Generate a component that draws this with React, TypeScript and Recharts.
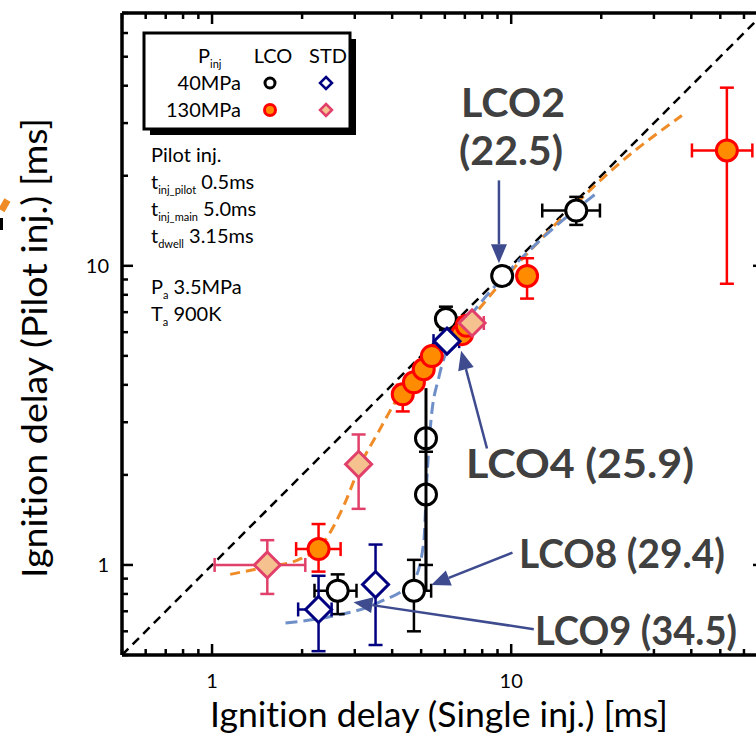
import {
  ComposedChart,
  Line,
  Scatter,
  XAxis,
  YAxis,
  ErrorBar,
  ReferenceLine,
} from 'recharts';

// log ticks for both axes
const TICKS = [0.5, 0.6, 0.7, 0.8, 0.9, 1, 2, 3, 4, 5, 6, 7, 8, 9, 10, 20, 30, 40, 50, 60, 70];
const MAJOR = [1, 10];

// LCO, 40 MPa (open black circles)
const lco40 = [
  { x: 2.63, y: 0.82, xLo: 2.2, xHi: 3.04, yLo: 0.685, yHi: 0.93 },
  { x: 4.73, y: 0.82, xLo: 4.5, xHi: 5.4, yLo: 0.6, yHi: 1.04 },
  { x: 5.19, y: 1.72, xLo: 5.19, xHi: 5.19, yLo: 1.0, yHi: 1.72 },
  { x: 5.19, y: 2.65, xLo: 5.19, xHi: 5.19, yLo: 2.39, yHi: 2.65 },
  { x: 6.05, y: 6.64, xLo: 5.75, xHi: 6.35, yLo: 6.1, yHi: 7.3 },
  { x: 9.33, y: 9.25, xLo: 9.33, xHi: 9.33, yLo: 9.25, yHi: 9.25 },
  { x: 16.5, y: 15.3, xLo: 12.7, xHi: 19.8, yLo: 13.7, yHi: 17.0 },
];

// LCO, 130 MPa (filled orange circles)
const lco130 = [
  { x: 2.27, y: 1.13, xLo: 1.91, xHi: 2.69, yLo: 0.95, yHi: 1.37 },
  { x: 4.34, y: 3.72, xLo: 4.2, xHi: 4.5, yLo: 3.26, yHi: 4.0 },
  { x: 4.73, y: 4.08, xLo: 4.6, xHi: 4.9, yLo: 3.9, yHi: 4.3 },
  { x: 5.1, y: 4.51, xLo: 5.0, xHi: 5.2, yLo: 4.3, yHi: 4.7 },
  { x: 5.43, y: 4.99, xLo: 5.3, xHi: 5.6, yLo: 4.8, yHi: 5.2 },
  { x: 6.85, y: 5.91, xLo: 6.3, xHi: 7.2, yLo: 5.6, yHi: 6.2 },
  { x: 7.1, y: 6.3, xLo: 6.9, xHi: 7.3, yLo: 6.1, yHi: 6.5 },
  { x: 11.3, y: 9.25, xLo: 10.8, xHi: 11.8, yLo: 7.77, yHi: 10.6 },
  { x: 52.6, y: 24.3, xLo: 40.2, xHi: 64, yLo: 8.71, yHi: 39.4 },
];

// STD, 40 MPa (open navy diamonds)
const std40 = [
  { x: 2.27, y: 0.71, xLo: 1.94, xHi: 2.51, yLo: 0.515, yHi: 0.92 },
  { x: 3.52, y: 0.86, xLo: 3.52, xHi: 3.52, yLo: 0.54, yHi: 1.17 },
  { x: 6.1, y: 5.6, xLo: 5.5, xHi: 6.7, yLo: 5.6, yHi: 5.6 },
];

// STD, 130 MPa (peach diamonds)
const std130 = [
  { x: 1.53, y: 1.0, xLo: 1.02, xHi: 2.05, yLo: 0.8, yHi: 1.21 },
  { x: 3.09, y: 2.17, xLo: 3.09, xHi: 3.09, yLo: 1.54, yHi: 2.73 },
  { x: 7.4, y: 6.44, xLo: 6.7, xHi: 8.1, yLo: 6.44, yHi: 6.44 },
];

// trend curves
const diagonal = [
  { x: 0.5, y: 0.5 },
  { x: 70, y: 70 },
];
const orangeTrend = [
  { x: 1.15, y: 0.93 }, { x: 1.52, y: 0.985 }, { x: 1.94, y: 1.04 }, { x: 2.36, y: 1.19 },
  { x: 2.75, y: 1.57 }, { x: 3.14, y: 2.17 }, { x: 3.61, y: 2.8 }, { x: 4.21, y: 3.66 },
  { x: 5.31, y: 4.8 }, { x: 7.2, y: 6.54 }, { x: 9.48, y: 9.04 }, { x: 14.5, y: 14.2 },
  { x: 23.0, y: 22.0 }, { x: 37.2, y: 31.8 },
];
const blueTrend = [
  { x: 1.76, y: 0.64 }, { x: 2.45, y: 0.67 }, { x: 3.61, y: 0.75 }, { x: 4.73, y: 0.89 },
  { x: 5.1, y: 1.19 }, { x: 5.22, y: 1.9 }, { x: 5.39, y: 3.02 }, { x: 5.74, y: 4.27 },
  { x: 6.28, y: 5.6 }, { x: 7.5, y: 7.06 }, { x: 9.48, y: 9.25 }, { x: 12.4, y: 12.1 },
  { x: 19.3, y: 17.5 },
];
const blackTrend = [
  { x: 5.19, y: 0.82 },
  { x: 5.19, y: 3.9 },
];

// annotation arrows: tail -> tip
const arrows = [
  [{ x: 9.1, y: 19.3 }, { x: 9.1, y: 10.2 }],
  [{ x: 8.3, y: 2.45 }, { x: 6.8, y: 5.2 }],
  [{ x: 10.1, y: 1.1 }, { x: 5.4, y: 0.857 }],
  [{ x: 11.9, y: 0.61 }, { x: 2.97, y: 0.75 }],
];

const withErr = (d: any[]) =>
  d.map((p) => ({ ...p, ex: [p.x - p.xLo, p.xHi - p.x], ey: [p.y - p.yLo, p.yHi - p.y] }));

const FONT = 'Lato, "Open Sans", sans-serif';
const ARROW = '#3E4B8F';
const noLig = { fontVariantLigatures: 'none' as const };

const BottomTick = ({ x, y, payload }: any) => {
  const major = MAJOR.includes(payload.value);
  return (
    <g>
      <line x1={x} x2={x} y1={y} y2={y - (major ? 11 : 6)} stroke="#000" strokeWidth={2.5} />
      {major && (
        <text x={x} y={y + 33} textAnchor="middle" fontSize={20} fontFamily={FONT} fill="#000">
          {payload.value}
        </text>
      )}
    </g>
  );
};
const TopTick = ({ x, y, payload }: any) => {
  const major = MAJOR.includes(payload.value);
  return <line x1={x} x2={x} y1={y} y2={y + (major ? 11 : 6)} stroke="#000" strokeWidth={2.5} />;
};
const LeftTick = ({ x, y, payload }: any) => {
  const major = MAJOR.includes(payload.value);
  return (
    <g>
      <line x1={x} x2={x + (major ? 11 : 6)} y1={y} y2={y} stroke="#000" strokeWidth={2.5} />
      {major && (
        <text x={x - 13} y={y + 7} textAnchor="end" fontSize={20} fontFamily={FONT} fill="#000">
          {payload.value}
        </text>
      )}
    </g>
  );
};
const RightTick = ({ x, y, payload }: any) => {
  const major = MAJOR.includes(payload.value);
  return <line x1={x} x2={x - (major ? 11 : 6)} y1={y} y2={y} stroke="#000" strokeWidth={2.5} />;
};

const OpenCircle = ({ cx, cy }: any) => (
  <circle cx={cx} cy={cy} r={10.5} fill="#fff" stroke="#000" strokeWidth={3} />
);
const FilledCircle = ({ cx, cy }: any) => (
  <circle cx={cx} cy={cy} r={10.5} fill="#FF8C00" stroke="#FF0000" strokeWidth={3} />
);
const diamondPts = (cx: number, cy: number, h: number) =>
  `${cx},${cy - h} ${cx + h},${cy} ${cx},${cy + h} ${cx - h},${cy}`;
const NavyDiamond = ({ cx, cy }: any) => (
  <polygon points={diamondPts(cx, cy, 13)} fill="#fff" stroke="#000080" strokeWidth={3} />
);
const PeachDiamond = ({ cx, cy }: any) => (
  <polygon points={diamondPts(cx, cy, 13)} fill="#F5C28F" stroke="#E0406A" strokeWidth={3} />
);
const NoDot = () => <g />;

const Arrow = ({ x1, y1, x2, y2 }: any) => {
  const dx = x2 - x1;
  const dy = y2 - y1;
  const L = Math.hypot(dx, dy) || 1;
  const ux = dx / L;
  const uy = dy / L;
  const bx = x2 - ux * 19;
  const by = y2 - uy * 19;
  const hw = 8;
  return (
    <g>
      <line x1={x1} y1={y1} x2={bx} y2={by} stroke={ARROW} strokeWidth={2.5} />
      <polygon
        points={`${x2},${y2} ${bx - uy * hw},${by + ux * hw} ${bx + uy * hw},${by - ux * hw}`}
        fill={ARROW}
      />
    </g>
  );
};

const errProps = (color: string) => ({ stroke: color, strokeWidth: 2.5, width: 7 });

const Sub = ({ children }: any) => (
  <tspan fontSize={11} dy={5}>
    {children}
  </tspan>
);

const Overlay = () => (
  <svg
    width={756}
    height={733}
    style={{ position: 'absolute', left: 0, top: 0, pointerEvents: 'none', ...noLig }}
    fontFamily={FONT}
  >
    {/* stray marks at the far left */}
    <rect x={1} y={199} width={7} height={12} fill="#F08C28" transform="rotate(30 4 205)" />
    <rect x={0} y={218} width={3} height={12} fill="#000" />

    {/* legend box */}
    <rect x={150} y={39} width={206} height={96} fill="#000" />
    <rect x={144} y={33} width={206} height={96} fill="#fff" stroke="#000" strokeWidth={3} />
    <text x={198} y={63} fontSize={20}>
      P<Sub>inj</Sub>
    </text>
    <text x={273} y={63} fontSize={20} textAnchor="middle">LCO</text>
    <text x={328} y={63} fontSize={20} textAnchor="middle">STD</text>
    <text x={241} y={90} fontSize={20} textAnchor="end">40MPa</text>
    <text x={241} y={117} fontSize={20} textAnchor="end">130MPa</text>
    <circle cx={270} cy={83} r={5} fill="#fff" stroke="#000" strokeWidth={3} />
    <polygon points={diamondPts(326, 83, 6)} fill="#fff" stroke="#000080" strokeWidth={2.5} />
    <circle cx={270} cy={110} r={5.5} fill="#FF8C00" stroke="#FF0000" strokeWidth={3} />
    <polygon points={diamondPts(326, 110, 6)} fill="#F5C28F" stroke="#E0406A" strokeWidth={2.5} />

    {/* conditions */}
    <text x={151} y={162} fontSize={20}>Pilot inj.</text>
    <text x={151} y={189} fontSize={20}>
      t<Sub>inj_pilot</Sub>
      <tspan dy={-5}> 0.5ms</tspan>
    </text>
    <text x={151} y={216} fontSize={20}>
      t<Sub>inj_main</Sub>
      <tspan dy={-5}> 5.0ms</tspan>
    </text>
    <text x={151} y={243} fontSize={20}>
      t<Sub>dwell</Sub>
      <tspan dy={-5}> 3.15ms</tspan>
    </text>
    <text x={151} y={294} fontSize={20}>
      P<Sub>a</Sub>
      <tspan dy={-5}> 3.5MPa</tspan>
    </text>
    <text x={151} y={321} fontSize={20}>
      T<Sub>a</Sub>
      <tspan dy={-5}> 900K</tspan>
    </text>

    {/* annotations */}
    <g fontSize={40} fontWeight="bold" fill="#404040">
      <text x={461} y={117} textLength={104} lengthAdjust="spacingAndGlyphs">LCO2</text>
      <text x={459} y={165} textLength={104} lengthAdjust="spacingAndGlyphs">(22.5)</text>
      <text x={466} y={478} textLength={228} lengthAdjust="spacingAndGlyphs">LCO4 (25.9)</text>
      <text x={519} y={568} textLength={206} lengthAdjust="spacingAndGlyphs">LCO8 (29.4)</text>
      <text x={535} y={645} textLength={202} lengthAdjust="spacingAndGlyphs">LCO9 (34.5)</text>
    </g>

    {/* axis titles */}
    <text x={210} y={727} fontSize={34} textLength={458} lengthAdjust="spacingAndGlyphs">
      Ignition delay (Single inj.) [ms]
    </text>
    <text
      x={47}
      y={578}
      fontSize={34}
      textLength={460}
      lengthAdjust="spacingAndGlyphs"
      transform="rotate(-90 47 578)"
    >
      Ignition delay (Pilot inj.) [ms]
    </text>
  </svg>
);

const axisCommon = {
  type: 'number' as const,
  scale: 'log' as const,
  domain: [0.5, 70],
  allowDataOverflow: true,
  ticks: TICKS,
  interval: 0,
  tickSize: 0,
  tickMargin: 0,
  axisLine: { stroke: '#000', strokeWidth: 3.5 },
};

export default function App() {
  return (
    <div
      style={{
        position: 'absolute',
        left: 0,
        top: 0,
        width: 756,
        height: 733,
        overflow: 'hidden',
        background: '#fff',
      }}
    >
      <ComposedChart width={800} height={733} margin={{ top: 12, right: 35, bottom: 77, left: 121 }}>
        <XAxis dataKey="x" height={1} tick={BottomTick} {...axisCommon} />
        <XAxis xAxisId="top" orientation="top" dataKey="x" height={1} tick={TopTick} {...axisCommon} />
        <YAxis dataKey="y" width={1} tick={LeftTick} {...axisCommon} />
        <YAxis
          yAxisId="right"
          orientation="right"
          dataKey="y"
          width={1}
          tick={RightTick}
          {...axisCommon}
        />

        <Line
          data={diagonal}
          dataKey="y"
          type="linear"
          stroke="#000"
          strokeWidth={2.5}
          strokeDasharray="9 6"
          dot={false}
          activeDot={false}
          isAnimationActive={false}
        />
        <Line
          data={orangeTrend}
          dataKey="y"
          type="monotoneX"
          stroke="#F08C28"
          strokeWidth={3}
          strokeDasharray="10 6"
          dot={false}
          activeDot={false}
          isAnimationActive={false}
        />
        <Line
          data={blueTrend}
          dataKey="y"
          type="monotoneX"
          stroke="#6F8FC8"
          strokeWidth={3}
          strokeDasharray="12 6"
          dot={false}
          activeDot={false}
          isAnimationActive={false}
        />

        <Scatter data={withErr(lco40)} shape={OpenCircle} isAnimationActive={false}>
          <ErrorBar dataKey="ex" direction="x" {...errProps('#000')} />
          <ErrorBar dataKey="ey" direction="y" {...errProps('#000')} />
        </Scatter>
        <Scatter data={withErr(lco130)} shape={FilledCircle} isAnimationActive={false}>
          <ErrorBar dataKey="ex" direction="x" {...errProps('#FF0000')} />
          <ErrorBar dataKey="ey" direction="y" {...errProps('#FF0000')} />
        </Scatter>
        <Scatter data={withErr(std40)} shape={NavyDiamond} isAnimationActive={false}>
          <ErrorBar dataKey="ex" direction="x" {...errProps('#000080')} />
          <ErrorBar dataKey="ey" direction="y" {...errProps('#000080')} />
        </Scatter>
        <Scatter data={withErr(std130)} shape={PeachDiamond} isAnimationActive={false}>
          <ErrorBar dataKey="ex" direction="x" {...errProps('#E0406A')} />
          <ErrorBar dataKey="ey" direction="y" {...errProps('#E0406A')} />
        </Scatter>
        <Scatter
          data={blackTrend}
          shape={NoDot}
          line={{ stroke: '#000', strokeWidth: 3 }}
          lineType="joint"
          isAnimationActive={false}
        />

        {arrows.map((seg, i) => (
          <ReferenceLine key={i} segment={seg} shape={Arrow} />
        ))}
      </ComposedChart>
      <Overlay />
    </div>
  );
}
